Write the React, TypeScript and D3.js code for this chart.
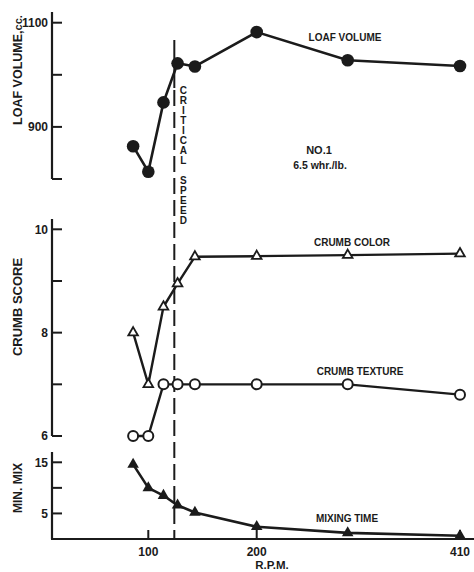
import React from "react";
import * as d3 from "d3";

// R.P.M. values shared by every series
const rpm = [86, 100, 114, 127, 143, 200, 294, 410];
const loafVolume = [863, 814, 947, 1022, 1016, 1082, 1028, 1017];
const crumbColor = [8.0, 7.0, 8.5, 8.95, 9.47, 9.48, 9.5, 9.53];
const crumbTexture = [6.0, 6.0, 7.0, 7.0, 7.0, 7.0, 7.0, 6.8];
const mixingTime = [14.6, 10.0, 8.5, 6.6, 5.2, 2.4, 1.2, 0.65];
const criticalSpeed = 124;

const xTicks = [100, 200, 410];
const loafTicks = [800, 900, 1000, 1100];
const loafLabels = [900, 1100];
const crumbTicks = [6, 7, 8, 9, 10];
const crumbLabels = [6, 8, 10];
const mixTicks = [5, 10, 15];
const mixLabels = [5, 15];

const INK = "#1b1b1b";
const FONT = "'Liberation Sans', Arial, sans-serif";

export default function App() {
  const W = 474;
  const H = 572;
  const axisX = 52;

  // x axis is not evenly spaced in the original, so use a piecewise scale
  const x = d3.scaleLinear().domain([100, 200, 410]).range([148.3, 256.7, 460]);
  const yLoaf = d3.scaleLinear().domain([800, 1100]).range([179, 22.7]);
  const yCrumb = d3.scaleLinear().domain([6, 10]).range([436, 229.3]);
  const yMix = d3.scaleLinear().domain([0, 15]).range([539, 462.3]);

  const line = (ys: number[], y: d3.ScaleLinear<number, number>) =>
    d3.line<number>().x((_, i) => x(rpm[i])).y((v) => y(v))(ys) || "";

  const triangle = d3.symbol(d3.symbolTriangle, 40)() || "";
  const triangleFilled = d3.symbol(d3.symbolTriangle, 58)() || "";

  const yAxis = (
    y: d3.ScaleLinear<number, number>,
    top: number,
    bottom: number,
    ticks: number[],
    labels: number[]
  ) => (
    <g>
      <line x1={axisX} x2={axisX} y1={top} y2={bottom} stroke={INK} strokeWidth={2.2} />
      {ticks.map((t) => (
        <line key={t} x1={axisX} x2={axisX + 10} y1={y(t)} y2={y(t)} stroke={INK} strokeWidth={2} />
      ))}
      {labels.map((t) => (
        <text key={t} x={axisX - 4} y={y(t)} dy="0.36em" textAnchor="end" fontSize={12} fontWeight="bold" fill={INK}>
          {t}
        </text>
      ))}
    </g>
  );

  const letters = "CRITICAL SPEED".split("");

  return (
    <svg width={W} height={H} style={{ position: "absolute", left: 0, top: 0, background: "#fff" }} fontFamily={FONT}>
      <rect width={W} height={H} fill="#fff" />

      {/* axes */}
      {yAxis(yLoaf, 12, 179, loafTicks, loafLabels)}
      {yAxis(yCrumb, 219, 436, crumbTicks, crumbLabels)}
      {yAxis(yMix, 452, 539, mixTicks, mixLabels)}
      <line x1={axisX - 1} x2={W} y1={yMix(0)} y2={yMix(0)} stroke={INK} strokeWidth={2.2} />
      {xTicks.map((t) => (
        <g key={t}>
          <line x1={x(t)} x2={x(t)} y1={yMix(0)} y2={yMix(0) - 9} stroke={INK} strokeWidth={2} />
          <text x={x(t)} y={556} textAnchor="middle" fontSize={12} fontWeight="bold" fill={INK}>
            {t}
          </text>
        </g>
      ))}
      <text x={272} y={569} textAnchor="middle" fontSize={11.5} fontWeight="bold" fill={INK}>
        R.P.M.
      </text>

      {/* axis titles */}
      <text transform="translate(22,70) rotate(-90)" textAnchor="middle" fontSize={12.5} fontWeight="bold" fill={INK}>
        LOAF VOLUME,<tspan fontSize={11}>cc.</tspan>
      </text>
      <text transform="translate(22,307) rotate(-90)" textAnchor="middle" fontSize={13} fontWeight="bold" fill={INK}>
        CRUMB SCORE
      </text>
      <text transform="translate(22,488) rotate(-90)" textAnchor="middle" fontSize={12} fontWeight="bold" fill={INK}>
        MIN. MIX
      </text>

      {/* critical speed */}
      <line x1={x(criticalSpeed)} x2={x(criticalSpeed)} y1={40} y2={88} stroke={INK} strokeWidth={2} />
      <line
        x1={x(criticalSpeed)}
        x2={x(criticalSpeed)}
        y1={90}
        y2={yMix(0)}
        stroke={INK}
        strokeWidth={2}
        strokeDasharray="16 6"
      />
      {letters.map((c, i) => (
        <text key={i} x={x(criticalSpeed) + 9} y={90 + i * 10} dy="0.36em" textAnchor="middle" fontSize={10} fontWeight="bold" fill={INK}>
          {c}
        </text>
      ))}

      {/* loaf volume */}
      <path d={line(loafVolume, yLoaf)} fill="none" stroke={INK} strokeWidth={2.6} />
      {loafVolume.map((v, i) => (
        <circle key={i} cx={x(rpm[i])} cy={yLoaf(v)} r={6.3} fill={INK} />
      ))}
      <text x={345} y={41} textAnchor="middle" fontSize={10} fontWeight="bold" fill={INK}>
        LOAF VOLUME
      </text>
      <text x={319} y={154} textAnchor="middle" fontSize={11} fontWeight="bold" fill={INK}>
        NO.1
      </text>
      <text x={320} y={169} textAnchor="middle" fontSize={10.5} fontWeight="bold" fill={INK}>
        6.5 whr./lb.
      </text>

      {/* crumb color */}
      <path d={line(crumbColor, yCrumb)} fill="none" stroke={INK} strokeWidth={2.4} />
      {crumbColor.map((v, i) => (
        <path key={i} d={triangle} transform={`translate(${x(rpm[i])},${yCrumb(v)})`} fill="#fff" stroke={INK} strokeWidth={1.8} />
      ))}
      <text x={352} y={246} textAnchor="middle" fontSize={10} fontWeight="bold" fill={INK}>
        CRUMB COLOR
      </text>

      {/* crumb texture */}
      <path d={line(crumbTexture, yCrumb)} fill="none" stroke={INK} strokeWidth={2.4} />
      {crumbTexture.map((v, i) => (
        <circle key={i} cx={x(rpm[i])} cy={yCrumb(v)} r={5} fill="#fff" stroke={INK} strokeWidth={2} />
      ))}
      <text x={360} y={375} textAnchor="middle" fontSize={10} fontWeight="bold" fill={INK}>
        CRUMB TEXTURE
      </text>

      {/* mixing time */}
      <path d={line(mixingTime, yMix)} fill="none" stroke={INK} strokeWidth={2.6} />
      {mixingTime.map((v, i) => (
        <path key={i} d={triangleFilled} transform={`translate(${x(rpm[i])},${yMix(v)})`} fill={INK} />
      ))}
      <text x={347} y={522} textAnchor="middle" fontSize={10} fontWeight="bold" fill={INK}>
        MIXING TIME
      </text>
    </svg>
  );
}
